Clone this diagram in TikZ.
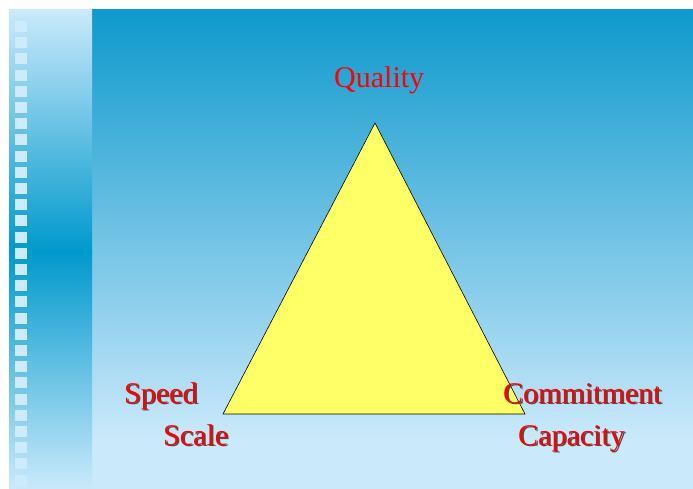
\documentclass[tikz,border=0pt]{standalone}
\usepackage{fontspec}
\setmainfont{Liberation Serif}
\definecolor{bgtop}{HTML}{0E99CC}
\definecolor{bglight}{HTML}{CAE9FB}
\definecolor{stripdark}{HTML}{0099CC}
\definecolor{sq}{HTML}{CCECFD}
\definecolor{tri}{HTML}{FFFF66}
\definecolor{lbl}{HTML}{FF0000}
\tikzset{
  lab/.style={anchor=base west, inner sep=0pt, text=lbl, font=\fontsize{30}{36}\selectfont},
  shadowlab/.style={anchor=base west, inner sep=0pt, text=black!70, font=\fontsize{30}{36}\selectfont},
  sqbox/.style={fill=sq, draw=none},
  trifill/.style={fill=tri, draw=black, line width=0.6pt, line join=miter}
}
\begin{document}
\begin{tikzpicture}[x=1pt,y=-1pt]
\useasboundingbox (0,0) rectangle (693,489);
\fill[white] (0,0) rectangle (693,489);
% main background
\shade[top color=bgtop, bottom color=bglight, middle color=bgtop!50!bglight] (92,10) rectangle (693,440);
\fill[bglight] (92,439.5) rectangle (693,489);
% left strip
\shade[top color=bglight, bottom color=stripdark] (9,10) rectangle (92,252);
\shade[top color=stripdark, bottom color=bglight] (9,251.5) rectangle (92,489);
\foreach \i in {0,...,28} {
  \fill[sqbox] (15,{21+\i*16.2}) rectangle (27,{32+\i*16.2});
}
% triangle
\coordinate (apex) at (375,123);
\coordinate (bl) at (223,414);
\coordinate (br) at (525,414);
\filldraw[trifill] (apex) -- (bl) -- (br) -- cycle;
% labels
\node[lab] (quality) at (334,88) {Quality};
\node[shadowlab] at (125.5,404.5) {Speed};
\node[lab] (speed) at (124,403) {Speed};
\node[shadowlab] at (164.5,446.5) {Scale};
\node[lab] (scale) at (163,445) {Scale};
\node[shadowlab] at (504.5,404.5) {Commitment};
\node[lab] (commitment) at (503,403) {Commitment};
\node[shadowlab] at (519.5,446.5) {Capacity};
\node[lab] (capacity) at (518,445) {Capacity};
\end{tikzpicture}
\end{document}
